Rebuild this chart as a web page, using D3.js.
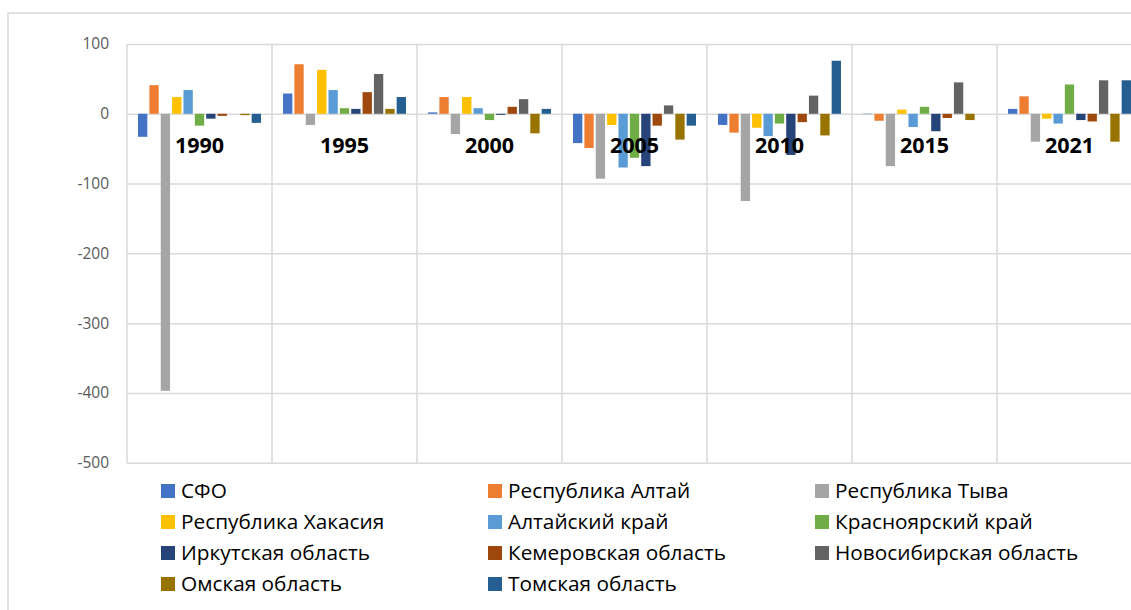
<!DOCTYPE html>
<html>
<head>
<meta charset="utf-8">
<script src="https://cdn.jsdelivr.net/npm/d3@7"></script>
<style>
    body { margin: 0; background: #fff; }
    svg { display: block; font-family: "Open Sans", sans-serif; }
    .grid line { stroke: #d9d9d9; stroke-width: 1.5; }
    .yLabel text { fill: #595959; font-size: 15.5px; }
    .catLabel { font-weight: bold; font-size: 21.5px; fill: #000; }
    .legend text { font-size: 20.8px; fill: #000; }
</style>
</head>
<body>
<div id="chart"></div>
<script>
// categories (years)
var years = ["1990", "1995", "2000", "2005", "2010", "2015", "2021"];

// series names and colours
var regions = ["СФО", "Республика Алтай", "Республика Тыва", "Республика Хакасия",
               "Алтайский край", "Красноярский край", "Иркутская область",
               "Кемеровская область", "Новосибирская область", "Омская область",
               "Томская область"];
var colors = ["#4472c4", "#ed7d31", "#a5a5a5", "#ffc000", "#5b9bd5", "#70ad47",
              "#264478", "#9e480e", "#636363", "#997300", "#255e91"];

// values per region, one per year
var sfo         = [-33, 29, 2, -42, -16, -0.5, 7];
var altai       = [41, 71, 24, -49, -27, -10, 25];
var tyva        = [-397, -16, -29, -93, -125, -75, -40];
var khakasia    = [24, 63, 24, -16, -20, 6, -7];
var altaiKrai   = [34, 34, 8, -77, -32, -19, -14];
var krasnoyarsk = [-17, 8, -9, -63, -14, 10, 42];
var irkutsk     = [-7, 7, -1.5, -75, -59, -25, -9];
var kemerovo    = [-3, 31, 10, -17, -12, -6, -11];
var novosib     = [0, 57, 21, 12, 26, 45, 48];
var omsk        = [-2, 7, -28, -37, -31, -9, -40];
var tomsk       = [-13, 24, 7, -17, 76, 0, 48];

// y axis ticks
var yTicks = [100, 0, -100, -200, -300, -400, -500];

function init() {

    var w = 1131;
    var h = 610;

    // plot area (runs past the right edge like the original)
    var left = 127, right = 1142, top = 44, bottom = 462.7;

    var seriesValues = [sfo, altai, tyva, khakasia, altaiKrai, krasnoyarsk,
                        irkutsk, kemerovo, novosib, omsk, tomsk];

    var svg = d3.select("#chart")
                .append("svg")
                .attr("width", w)
                .attr("height", h);

    // chart border
    svg.append("rect")
        .attr("x", 8)
        .attr("y", 13)
        .attr("width", w + 20)
        .attr("height", h + 20)
        .attr("fill", "none")
        .attr("stroke", "#d9d9d9")
        .attr("stroke-width", 1.5);

    var xScale = d3.scaleBand()
                .domain(years)
                .range([left, right]);

    // bars inside each year, 10px of room on each side
    var xInner = d3.scaleBand()
                .domain(regions)
                .range([10, xScale.bandwidth() - 10])
                .paddingInner(0.18)
                .paddingOuter(0.09);

    var yScale = d3.scaleLinear()
                .domain([-500, 100])
                .range([bottom, top]);

    // horizontal gridlines
    var gridY = d3.axisLeft(yScale)
                .tickValues(yTicks)
                .tickSize(-(right - left))
                .tickFormat("");

    svg.append("g")
        .attr("class", "grid")
        .attr("transform", "translate(" + left + ",0)")
        .call(gridY)
        .call(function(g) { g.select(".domain").remove(); });

    // vertical lines between the years
    svg.append("g")
        .attr("class", "grid")
        .selectAll("line")
        .data(years.concat(["end"]))
        .enter()
        .append("line")
        .attr("x1", function(d, i) { return i < years.length ? xScale(d) : right; })
        .attr("x2", function(d, i) { return i < years.length ? xScale(d) : right; })
        .attr("y1", top)
        .attr("y2", bottom);

    // y labels, plain hyphen for the minus like the original
    var yAxis = d3.axisLeft(yScale)
                .tickValues(yTicks)
                .tickSize(0)
                .tickPadding(18)
                .tickFormat(function(d) { return String(d); });

    svg.append("g")
        .attr("class", "yLabel")
        .attr("transform", "translate(" + left + ",0)")
        .call(yAxis)
        .call(function(g) { g.select(".domain").remove(); })
        .selectAll("text")
        .style("font-family", "'Open Sans', sans-serif");

    // bars
    var groups = svg.append("g")
                .selectAll("g")
                .data(years)
                .enter()
                .append("g")
                .attr("transform", function(d) { return "translate(" + xScale(d) + ",0)"; });

    groups.selectAll("rect")
        .data(function(d, yi) {
            return regions.map(function(r, si) {
                return { region: r, value: seriesValues[si][yi], color: colors[si] };
            });
        })
        .enter()
        .append("rect")
        .attr("x", function(d) { return xInner(d.region); })
        .attr("width", xInner.bandwidth())
        .attr("y", function(d) { return yScale(Math.max(0, d.value)); })
        .attr("height", function(d) { return Math.abs(yScale(d.value) - yScale(0)); })
        .attr("fill", function(d) { return d.color; });

    // year labels sit just below the zero line
    svg.append("g")
        .selectAll("text")
        .data(years)
        .enter()
        .append("text")
        .attr("class", "catLabel")
        .attr("x", function(d) { return xScale(d) + xScale.bandwidth() / 2; })
        .attr("y", yScale(0) + 39)
        .attr("text-anchor", "middle")
        .text(function(d) { return d; });

    // legend, 3 columns
    var legend = svg.append("g")
                .attr("class", "legend")
                .selectAll("g")
                .data(regions)
                .enter()
                .append("g")
                .attr("transform", function(d, i) {
                    return "translate(" + (161 + (i % 3) * 327) + "," + (484 + Math.floor(i / 3) * 31) + ")";
                });

    legend.append("rect")
        .attr("width", 14)
        .attr("height", 14)
        .attr("fill", function(d, i) { return colors[i]; });

    legend.append("text")
        .attr("x", 20)
        .attr("y", 14)
        .text(function(d) { return d; });
}

window.onload = init;
</script>
</body>
</html>
